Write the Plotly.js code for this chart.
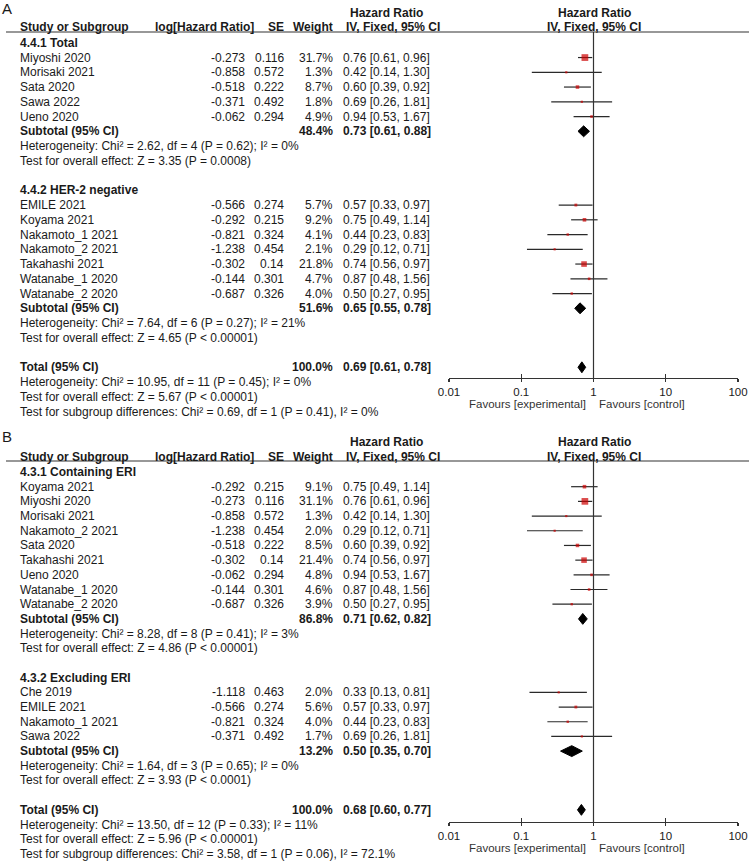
<!DOCTYPE html>
<html>
<head>
<meta charset="utf-8">
<script src="https://cdn.plot.ly/plotly-3.0.1.min.js"></script>
<style>
  html, body { margin: 0; padding: 0; background: #fff; }
  #plot { width: 756px; height: 864px; }
</style>
</head>
<body>
<div id="plot"></div>
<script>
// ---- Panel A data (rows in drawing order) ----
const aStudy = ['Miyoshi 2020', 'Morisaki 2021', 'Sata 2020', 'Sawa 2022', 'Ueno 2020',
  'EMILE 2021', 'Koyama 2021', 'Nakamoto_1 2021', 'Nakamoto_2 2021', 'Takahashi 2021',
  'Watanabe_1 2020', 'Watanabe_2 2020'];
const aGroup = [0, 0, 0, 0, 0, 1, 1, 1, 1, 1, 1, 1];
const aLogHR = [-0.273, -0.858, -0.518, -0.371, -0.062, -0.566, -0.292, -0.821, -1.238, -0.302, -0.144, -0.687];
const aSE = [0.116, 0.572, 0.222, 0.492, 0.294, 0.274, 0.215, 0.324, 0.454, 0.14, 0.301, 0.326];
const aWeight = [31.7, 1.3, 8.7, 1.8, 4.9, 5.7, 9.2, 4.1, 2.1, 21.8, 4.7, 4.0];
const aHR = [0.76, 0.42, 0.60, 0.69, 0.94, 0.57, 0.75, 0.44, 0.29, 0.74, 0.87, 0.50];
const aLo = [0.61, 0.14, 0.39, 0.26, 0.53, 0.33, 0.49, 0.23, 0.12, 0.56, 0.48, 0.27];
const aHi = [0.96, 1.30, 0.92, 1.81, 1.67, 0.97, 1.14, 0.83, 0.71, 0.97, 1.56, 0.95];
const aGroupName = ['4.4.1 Total', '4.4.2 HER-2 negative'];
const aSubWeight = [48.4, 51.6];
const aSubHR = [0.73, 0.65];
const aSubLo = [0.61, 0.55];
const aSubHi = [0.88, 0.78];
const aSubHet = ['Heterogeneity: Chi² = 2.62, df = 4 (P = 0.62); I² = 0%',
  'Heterogeneity: Chi² = 7.64, df = 6 (P = 0.27); I² = 21%'];
const aSubTest = ['Test for overall effect: Z = 3.35 (P = 0.0008)',
  'Test for overall effect: Z = 4.65 (P < 0.00001)'];
const aTotWeight = 100.0, aTotHR = 0.69, aTotLo = 0.61, aTotHi = 0.78;
const aTotText = ['Heterogeneity: Chi² = 10.95, df = 11 (P = 0.45); I² = 0%',
  'Test for overall effect: Z = 5.67 (P < 0.00001)',
  'Test for subgroup differences: Chi² = 0.69, df = 1 (P = 0.41), I² = 0%'];

// ---- Panel B data ----
const bStudy = ['Koyama 2021', 'Miyoshi 2020', 'Morisaki 2021', 'Nakamoto_2 2021', 'Sata 2020',
  'Takahashi 2021', 'Ueno 2020', 'Watanabe_1 2020', 'Watanabe_2 2020',
  'Che 2019', 'EMILE 2021', 'Nakamoto_1 2021', 'Sawa 2022'];
const bGroup = [0, 0, 0, 0, 0, 0, 0, 0, 0, 1, 1, 1, 1];
const bLogHR = [-0.292, -0.273, -0.858, -1.238, -0.518, -0.302, -0.062, -0.144, -0.687, -1.118, -0.566, -0.821, -0.371];
const bSE = [0.215, 0.116, 0.572, 0.454, 0.222, 0.14, 0.294, 0.301, 0.326, 0.463, 0.274, 0.324, 0.492];
const bWeight = [9.1, 31.1, 1.3, 2.0, 8.5, 21.4, 4.8, 4.6, 3.9, 2.0, 5.6, 4.0, 1.7];
const bHR = [0.75, 0.76, 0.42, 0.29, 0.60, 0.74, 0.94, 0.87, 0.50, 0.33, 0.57, 0.44, 0.69];
const bLo = [0.49, 0.61, 0.14, 0.12, 0.39, 0.56, 0.53, 0.48, 0.27, 0.13, 0.33, 0.23, 0.26];
const bHi = [1.14, 0.96, 1.30, 0.71, 0.92, 0.97, 1.67, 1.56, 0.95, 0.81, 0.97, 0.83, 1.81];
const bGroupName = ['4.3.1 Containing ERI', '4.3.2 Excluding ERI'];
const bSubWeight = [86.8, 13.2];
const bSubHR = [0.71, 0.50];
const bSubLo = [0.62, 0.35];
const bSubHi = [0.82, 0.70];
const bSubHet = ['Heterogeneity: Chi² = 8.28, df = 8 (P = 0.41); I² = 3%',
  'Heterogeneity: Chi² = 1.64, df = 3 (P = 0.65); I² = 0%'];
const bSubTest = ['Test for overall effect: Z = 4.86 (P < 0.00001)',
  'Test for overall effect: Z = 3.93 (P < 0.0001)'];
const bTotWeight = 100.0, bTotHR = 0.68, bTotLo = 0.60, bTotHi = 0.77;
const bTotText = ['Heterogeneity: Chi² = 13.50, df = 12 (P = 0.33); I² = 11%',
  'Test for overall effect: Z = 5.96 (P < 0.00001)',
  'Test for subgroup differences: Chi² = 3.58, df = 1 (P = 0.06), I² = 72.1%'];

// axis ticks
const tickVals = [0.01, 0.1, 1, 10, 100];
const tickText = ['0.01', '0.1', '1', '10', '100'];

// ---- page geometry ----
const W = 756, H = 864;
const FONT = 'Liberation Sans, Arial, sans-serif';
const TXT = '#1a1a1a';
const plotLeft = 449, plotRight = 738;

const panels = [
  {label: 'A', xa: 'x', ya: 'y', study: aStudy, group: aGroup, logHR: aLogHR, se: aSE, weight: aWeight,
   hr: aHR, lo: aLo, hi: aHi, groupName: aGroupName, subWeight: aSubWeight, subHR: aSubHR,
   subLo: aSubLo, subHi: aSubHi, subHet: aSubHet, subTest: aSubTest,
   totWeight: aTotWeight, totHR: aTotHR, totLo: aTotLo, totHi: aTotHi, totText: aTotText,
   topPx: 0, bottomPx: 420, firstRowPx: 42.8, rowPx: 14.75, linePx: 32, axisPx: 378, labelPx: 8},
  {label: 'B', xa: 'x2', ya: 'y2', study: bStudy, group: bGroup, logHR: bLogHR, se: bSE, weight: bWeight,
   hr: bHR, lo: bLo, hi: bHi, groupName: bGroupName, subWeight: bSubWeight, subHR: bSubHR,
   subLo: bSubLo, subHi: bSubHi, subHet: bSubHet, subTest: bSubTest,
   totWeight: bTotWeight, totHR: bTotHR, totLo: bTotLo, totHi: bTotHi, totText: bTotText,
   topPx: 428, bottomPx: 864, firstRowPx: 472, rowPx: 14.69, linePx: 461, axisPx: 822, labelPx: 436}
];

const traces = [];
const annotations = [];
const shapes = [];
const layout = {
  width: W, height: H,
  margin: {l: 0, r: 0, t: 0, b: 0},
  paper_bgcolor: '#fff', plot_bgcolor: 'rgba(0,0,0,0)',
  showlegend: false,
  font: {family: FONT, size: 12, color: TXT},
  annotations: annotations, shapes: shapes
};

function fmtCI(hr, lo, hi) {
  return hr.toFixed(2) + ' [' + lo.toFixed(2) + ', ' + hi.toFixed(2) + ']';
}

panels.forEach((p, pi) => {
  const toK = px => (px - p.firstRowPx) / p.rowPx;
  const txt = (xpx, k, s, anchor, size, color) => annotations.push({
    xref: 'paper', yref: p.ya, x: xpx / W, y: k, text: s,
    xanchor: anchor, yanchor: 'middle', showarrow: false, borderpad: 0, borderwidth: 0,
    font: {family: FONT, size: size || 12, color: color || TXT}
  });
  const diamond = (hr, lo, hi, k) => {
    const h = 0.37;
    traces.push({
      type: 'scatter', mode: 'lines', xaxis: p.xa, yaxis: p.ya,
      x: [lo, hr, hi, hr, lo], y: [k, k - h, k, k + h, k],
      fill: 'toself', fillcolor: '#000', line: {color: '#000', width: 1},
      hoverinfo: 'skip', cliponaxis: false
    });
  };

  // axes
  const axName = pi === 0 ? 'xaxis' : 'xaxis2';
  const yName = pi === 0 ? 'yaxis' : 'yaxis2';
  const overName = pi === 0 ? 'xaxis3' : 'xaxis4';
  const pos = 1 - p.axisPx / H;
  const baseAx = {
    type: 'log', range: [-2, 2], domain: [plotLeft / W, plotRight / W],
    anchor: 'free', position: pos, tickmode: 'array', tickvals: tickVals,
    showgrid: false, zeroline: false, fixedrange: true
  };
  layout[axName] = Object.assign({}, baseAx, {
    ticktext: tickText, ticks: 'outside', ticklen: 3, tickcolor: '#333', tickwidth: 1.2,
    showline: true, linecolor: '#333', linewidth: 1.2,
    tickfont: {family: FONT, size: 11.5, color: TXT}
  });
  layout[overName] = Object.assign({}, baseAx, {
    overlaying: p.xa, ticks: 'inside', ticklen: 4, tickcolor: '#333', tickwidth: 1.2,
    showticklabels: false, showline: false
  });
  traces.push({type: 'scatter', x: [], y: [], xaxis: pi === 0 ? 'x3' : 'x4', yaxis: p.ya, hoverinfo: 'skip'});
  layout[yName] = {
    range: [toK(p.bottomPx), toK(p.topPx)], domain: [Math.max(0, 1 - p.bottomPx / H), 1 - p.topPx / H],
    visible: false, fixedrange: true
  };

  // panel letter + header
  txt(2, toK(p.labelPx), p.label, 'left', 15);
  txt(387, -2.05, '<b>Hazard Ratio</b>', 'center');
  txt(594, -2.05, '<b>Hazard Ratio</b>', 'center');
  txt(20, -1.05, '<b>Study or Subgroup</b>', 'left');
  txt(254, -1.05, '<b>log[Hazard Ratio]</b>', 'right');
  txt(284, -1.05, '<b>SE</b>', 'right');
  txt(333, -1.05, '<b>Weight</b>', 'right');
  txt(393, -1.05, '<b>IV, Fixed, 95% CI</b>', 'center');
  txt(594, -1.05, '<b>IV, Fixed, 95% CI</b>', 'center');
  shapes.push({type: 'line', xref: 'paper', yref: 'paper', x0: 6 / W, x1: 749 / W,
    y0: 1 - p.linePx / H, y1: 1 - p.linePx / H, line: {color: '#333', width: 1.2}});

  // rows
  const sx = [], sy = [], ss = [], ep = [], em = [];
  let k = 0;
  p.groupName.forEach((gName, g) => {
    txt(20, k, '<b>' + gName + '</b>', 'left');
    k++;
    p.study.forEach((s, i) => {
      if (p.group[i] !== g) return;
      txt(20, k, s, 'left');
      txt(245, k, String(p.logHR[i]), 'right');
      txt(284, k, String(p.se[i]), 'right');
      txt(333, k, p.weight[i].toFixed(1) + '%', 'right');
      txt(343, k, fmtCI(p.hr[i], p.lo[i], p.hi[i]), 'left');
      sx.push(p.hr[i]); sy.push(k);
      ss.push(Math.max(2.2, 1.2 * Math.sqrt(p.weight[i])));
      ep.push(p.hi[i] - p.hr[i]); em.push(p.hr[i] - p.lo[i]);
      k++;
    });
    txt(20, k, '<b>Subtotal (95% CI)</b>', 'left');
    txt(333, k, '<b>' + p.subWeight[g].toFixed(1) + '%</b>', 'right');
    txt(343, k, '<b>' + fmtCI(p.subHR[g], p.subLo[g], p.subHi[g]) + '</b>', 'left');
    diamond(p.subHR[g], p.subLo[g], p.subHi[g], k);
    k++;
    txt(20, k, p.subHet[g], 'left'); k++;
    txt(20, k, p.subTest[g], 'left'); k++;
    k++; // blank row
  });
  txt(20, k, '<b>Total (95% CI)</b>', 'left');
  txt(333, k, '<b>' + p.totWeight.toFixed(1) + '%</b>', 'right');
  txt(343, k, '<b>' + fmtCI(p.totHR, p.totLo, p.totHi) + '</b>', 'left');
  diamond(p.totHR, p.totLo, p.totHi, k);
  k++;
  p.totText.forEach(t => { txt(20, k, t, 'left'); k++; });

  // study squares with CI whiskers
  traces.push({
    type: 'scatter', mode: 'markers', xaxis: p.xa, yaxis: p.ya,
    x: sx, y: sy,
    marker: {symbol: 'square', size: ss, color: '#cc0000', line: {width: 0}},
    error_x: {type: 'data', symmetric: false, array: ep, arrayminus: em,
      color: '#2a2a2a', thickness: 1.2, width: 0},
    hoverinfo: 'skip', cliponaxis: false
  });

  // line of no effect
  traces.push({
    type: 'scatter', mode: 'lines', xaxis: p.xa, yaxis: p.ya,
    x: [1, 1], y: [toK(p.linePx), toK(p.axisPx)],
    line: {color: '#333', width: 1.2}, hoverinfo: 'skip', cliponaxis: false
  });

  // favours labels
  const fk = toK(p.axisPx + 26);
  txt(586, fk, 'Favours [experimental]', 'right', 11.5, '#333');
  txt(599, fk, 'Favours [control]', 'left', 11.5, '#333');
});

Plotly.newPlot('plot', traces, layout, {displayModeBar: false, staticPlot: true});
</script>
</body>
</html>
